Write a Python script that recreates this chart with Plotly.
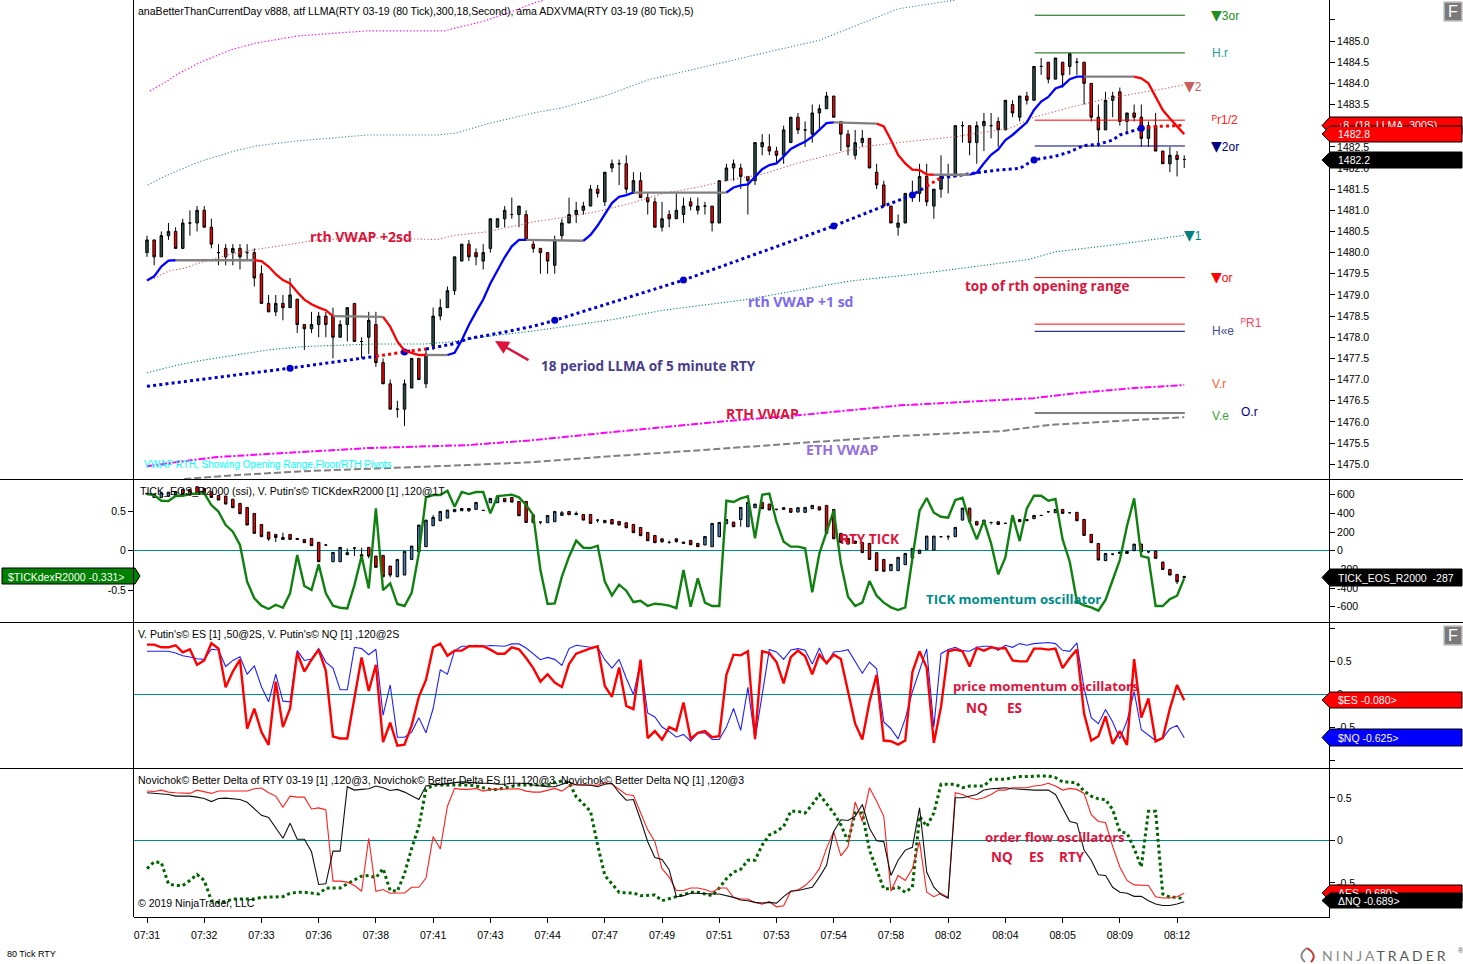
import plotly.graph_objects as go

# ---------- data ----------
time_labels = ["07:31","07:32","07:33","07:36","07:38","07:41","07:43","07:44","07:47","07:49",
               "07:51","07:53","07:54","07:58","08:02","08:04","08:05","08:09","08:12"]
bar_index = list(range(146))

rty_open = [1480.0,1480.3,1479.9,1480.4,1480.5,1480.1,1480.7,1480.7,1481.0,1480.6,
 1480.0,1480.1,1480.0,1480.1,1480.0,1480.0,1479.5,1478.8,1478.6,1478.8,
 1478.7,1478.9,1478.3,1478.2,1478.3,1478.5,1478.5,1478.0,1478.3,1478.8,
 1477.9,1478.0,1478.3,1477.4,1476.9,1476.3,1476.3,1476.8,1477.5,1476.9,
 1477.8,1478.5,1478.7,1479.1,1479.8,1480.2,1480.0,1479.8,1480.1,1480.6,
 1480.8,1480.9,1480.9,1480.9,1480.2,1480.1,1480.0,1479.7,1480.4,1480.7,
 1480.9,1481.0,1481.1,1481.5,1481.2,1482.0,1482.1,1482.1,1481.4,1481.7,
 1481.3,1481.2,1480.6,1480.9,1480.8,1480.9,1481.2,1481.0,1481.1,1481.1,
 1480.7,1481.7,1482.0,1482.0,1481.8,1481.7,1482.5,1482.5,1482.4,1482.3,
 1482.6,1483.2,1482.9,1482.8,1483.3,1483.4,1483.7,1483.1,1482.8,1482.3,
 1482.6,1482.7,1481.9,1481.6,1481.1,1480.6,1480.7,1481.3,1481.4,1481.8,
 1481.1,1481.5,1481.8,1481.8,1483.0,1483.0,1482.6,1483.0,1483.0,1483.1,
 1482.9,1483.5,1483.2,1483.7,1483.6,1484.4,1484.5,1484.1,1484.5,1484.4,
 1484.5,1484.5,1484.0,1483.2,1482.9,1483.6,1483.8,1483.1,1483.3,1483.2,
 1482.7,1483.0,1482.4,1482.1,1482.3,1482.2]
rty_high = [1480.4,1480.3,1480.5,1480.7,1480.6,1480.8,1481.0,1481.1,1481.1,1480.8,
 1480.2,1480.2,1480.2,1480.2,1480.2,1480.1,1479.7,1479.0,1479.0,1479.0,
 1479.4,1478.9,1478.3,1478.6,1478.6,1478.6,1478.7,1478.4,1478.7,1478.8,
 1478.0,1478.6,1478.6,1477.5,1477.0,1476.5,1477.0,1477.5,1477.5,1477.7,
 1478.7,1478.9,1479.2,1479.9,1480.2,1480.3,1480.1,1480.2,1480.8,1480.8,
 1481.1,1481.3,1481.1,1481.0,1480.3,1480.1,1480.0,1480.4,1480.8,1481.3,
 1481.2,1481.2,1481.6,1481.6,1481.9,1482.2,1482.2,1482.3,1481.9,1481.9,
 1481.4,1481.3,1481.2,1481.0,1481.4,1481.3,1481.3,1481.3,1481.2,1481.1,
 1481.7,1482.1,1482.2,1482.1,1481.8,1482.6,1482.8,1482.8,1482.5,1483.0,
 1483.2,1483.3,1483.1,1483.5,1483.5,1483.8,1483.7,1483.1,1482.9,1482.9,
 1482.9,1482.7,1482.1,1481.7,1481.1,1480.9,1481.4,1481.7,1482.1,1482.1,
 1481.5,1482.3,1482.1,1483.0,1483.1,1483.0,1483.1,1483.3,1483.3,1483.2,
 1483.6,1483.6,1483.7,1483.8,1484.4,1484.6,1484.5,1484.6,1484.5,1484.7,
 1484.6,1484.5,1484.0,1483.5,1483.8,1483.8,1483.9,1483.3,1483.5,1483.5,
 1483.1,1483.3,1482.4,1482.5,1482.4,1482.3]
rty_low = [1479.9,1479.7,1479.9,1480.3,1480.1,1480.1,1480.4,1480.5,1480.6,1480.1,
 1479.7,1479.7,1479.7,1479.6,1479.8,1479.2,1478.8,1478.6,1478.5,1478.4,
 1478.7,1478.1,1477.7,1478.1,1478.0,1478.0,1477.5,1478.0,1477.9,1477.9,
 1477.5,1477.6,1477.3,1476.9,1476.3,1476.1,1475.9,1476.8,1477.0,1476.8,
 1477.7,1478.4,1478.7,1479.0,1479.8,1479.8,1479.7,1479.6,1480.0,1480.6,
 1480.6,1480.8,1480.6,1480.3,1480.0,1479.5,1479.5,1479.5,1480.3,1480.7,
 1480.7,1480.9,1481.1,1481.3,1481.1,1481.9,1481.6,1481.4,1481.4,1481.3,
 1480.9,1480.6,1480.5,1480.6,1480.8,1480.7,1481.0,1480.9,1480.9,1480.5,
 1480.7,1481.7,1481.7,1481.5,1480.9,1481.6,1482.3,1482.3,1482.1,1482.1,
 1482.6,1482.8,1482.5,1482.6,1482.9,1483.4,1483.2,1482.4,1482.3,1482.2,
 1482.5,1482.0,1481.5,1481.1,1480.7,1480.4,1480.7,1481.2,1481.2,1481.1,
 1480.8,1481.3,1481.4,1481.8,1482.6,1482.3,1482.1,1482.4,1482.7,1482.5,
 1482.9,1483.2,1483.1,1483.5,1483.6,1484.2,1484.0,1484.1,1483.9,1484.2,
 1484.2,1483.5,1483.1,1482.5,1482.9,1483.2,1483.0,1482.8,1483.1,1482.5,
 1482.5,1482.4,1482.1,1481.9,1481.8,1482.0]
rty_close = [1480.3,1479.9,1480.4,1480.5,1480.1,1480.7,1480.7,1481.0,1480.6,1480.2,
 1480.0,1479.9,1480.1,1479.9,1480.0,1479.4,1478.8,1478.6,1478.8,1478.7,
 1479.0,1478.3,1478.2,1478.3,1478.5,1478.3,1478.0,1478.3,1478.7,1477.9,
 1477.9,1478.4,1477.4,1476.9,1476.3,1476.3,1476.9,1477.5,1477.0,1477.6,
 1478.5,1478.7,1479.1,1479.9,1480.2,1479.9,1479.9,1480.0,1480.8,1480.8,
 1481.0,1480.9,1481.1,1480.3,1480.1,1480.0,1479.8,1480.3,1480.7,1480.9,
 1481.0,1481.1,1481.5,1481.4,1481.9,1482.1,1482.1,1481.5,1481.7,1481.3,
 1481.2,1480.6,1480.8,1480.8,1481.0,1481.1,1481.1,1481.1,1481.1,1480.7,
 1481.7,1482.0,1482.1,1481.8,1481.7,1482.6,1482.6,1482.4,1482.3,1482.9,
 1483.2,1482.9,1482.9,1483.3,1483.4,1483.7,1483.2,1482.8,1482.5,1482.6,
 1482.7,1482.0,1481.6,1481.1,1480.7,1480.7,1481.4,1481.4,1481.8,1481.2,
 1481.5,1481.8,1481.8,1483.0,1483.0,1482.6,1483.0,1483.1,1483.0,1482.9,
 1483.6,1483.3,1483.7,1483.6,1484.4,1484.4,1484.1,1484.6,1484.2,1484.7,
 1484.5,1484.0,1483.2,1482.9,1483.6,1483.7,1483.1,1483.3,1483.2,1482.7,
 1483.0,1482.4,1482.1,1482.3,1482.2,1482.2]

llma_blue_x = [0,1,2,3,4,None,42,43,44,45,46,47,48,49,50,51,52,53,None,61,62,63,64,65,66,67,68,None,
               81,82,83,84,85,86,87,88,89,90,91,92,93,94,95,96,None,
               115,116,117,118,119,120,121,122,123,124,125,126,127,128,129,130,131]
llma_blue_y = [1479.34,1479.44,1479.67,1479.81,1479.82,None,
               1477.58,1477.63,1477.93,1478.29,1478.6,1478.89,1479.27,1479.59,1479.89,1480.15,1480.3,1480.3,None,
               1480.28,1480.42,1480.64,1480.89,1481.17,1481.32,1481.36,1481.42,None,
               1481.42,1481.54,1481.59,1481.61,1481.79,1481.97,1482.07,1482.11,1482.27,1482.45,1482.54,1482.62,1482.74,1482.9,1483.06,1483.08,None,
               1481.84,1481.89,1482.11,1482.31,1482.44,1482.66,1482.78,1482.94,1483.08,1483.37,1483.57,1483.68,1483.88,1483.94,1484.1,1484.16,1484.16]
llma_gray_x = [4,15,None,26,33,None,39,42,None,53,61,None,68,81,None,96,102,None,110,115,None,131,138]
llma_gray_y = [1479.82,1479.82,None,1478.5,1478.48,None,1477.58,1477.58,None,1480.3,1480.28,None,
               1481.42,1481.42,None,1483.08,1483.05,None,1481.84,1481.84,None,1484.16,1484.16]
llma_red_x = [15,16,17,18,19,20,21,22,23,24,25,26,None,33,34,35,36,37,38,39,None,
              102,103,104,105,106,107,108,109,110,None,138,139,140,141,142,143,144,145]
llma_red_y = [1479.82,1479.8,1479.67,1479.49,1479.35,1479.27,1479.07,1478.89,1478.78,1478.7,1478.64,1478.5,None,
              1478.48,1478.25,1477.9,1477.68,1477.63,1477.58,1477.58,None,
              1483.05,1482.98,1482.66,1482.31,1482.11,1481.96,1481.95,1481.85,1481.84,None,
              1484.16,1484.12,1484.0,1483.68,1483.37,1483.17,1482.98,1482.8]

llma5_blue_x = [0,20,32,None,35.5,37,None,39,43,45,49,54,57,75,96,103,107,109,None,
                111,113,116,119,122,124,127,129,130,131,133,135,136,139]
llma5_blue_y = [1476.84,1477.27,1477.55,None,1477.64,1477.68,None,1477.72,1477.85,1477.97,1478.09,1478.26,1478.4,1479.35,1480.63,1481.1,1481.36,1481.57,None,
                1481.77,1481.81,1481.89,1481.95,1481.99,1482.19,1482.28,1482.38,1482.46,1482.53,1482.56,1482.66,1482.78,1482.94]
llma5_red_x = [32,35.5,None,37,39,None,109,111,None,139,141,145]
llma5_red_y = [1477.55,1477.64,None,1477.68,1477.72,None,1481.57,1481.77,None,1482.94,1482.98,1483.01]
llma5_dots_x = [20,36,57,75,96,107,124,139]
llma5_dots_y = [1477.27,1477.65,1478.4,1479.35,1480.63,1481.36,1482.19,1482.94]

sd3_x = [0.4,2.8,4.3,7.5,11.7,15.2,21,26.1,30.8,41.5,43.3,47.1,50.9,54.1,55.6]
sd3_y = [1483.82,1484.05,1484.22,1484.5,1484.79,1484.95,1485.12,1485.19,1485.24,1485.24,1485.31,1485.47,1485.69,1485.9,1485.97]
steel_x = [0.1,2.8,7.5,12.2,15.2,21,26.1,30.8,40.6,43.3,47.5,54,58,64.3,70,77,85,94,105,113]
steel_y = [1481.6,1481.83,1482.16,1482.4,1482.52,1482.64,1482.71,1482.78,1482.78,1482.83,1483.04,1483.3,1483.42,1483.72,1484.08,1484.36,1484.67,1485.02,1485.76,1485.97]
sd2_x = [1,3.1,5.2,7,9.1,12.2,15,17.8,20.5,24.3,28,31.7,35.5,40.6,43,45.2,47.6,50.8,54.1,58.2,62.9,67.5,72.2,76.8,81.5,86,90.8,95.5,100,105,113,120.7,124,129,134.4,141,145]
sd2_y = [1479.39,1479.57,1479.63,1479.74,1479.84,1479.98,1480.07,1480.14,1480.22,1480.31,1480.33,1480.35,1480.33,1480.31,1480.41,1480.45,1480.49,1480.61,1480.73,1480.83,1480.97,1481.16,1481.4,1481.54,1481.72,1481.85,1482.11,1482.31,1482.5,1482.6,1482.74,1482.94,1483.2,1483.43,1483.65,1483.84,1483.96]
sd1_x = [0,4.2,7.9,12.2,16.9,21.9,26.1,31.7,38.8,42.5,47.1,54.1,65.2,72.2,83.4,90.8,98.3,104,109.4,123.3,127,135,145]
sd1_y = [1477.16,1477.34,1477.46,1477.58,1477.7,1477.78,1477.8,1477.84,1477.84,1477.89,1478.01,1478.15,1478.42,1478.64,1478.88,1479.1,1479.33,1479.43,1479.53,1479.84,1480.02,1480.18,1480.41]
rth_vwap_x = [0,2.8,9.8,21.4,30.8,44.8,54.1,63.4,81,91.3,105.3,124,130,138,145]
rth_vwap_y = [1474.95,1475.02,1475.17,1475.28,1475.38,1475.45,1475.57,1475.73,1476.02,1476.16,1476.39,1476.56,1476.68,1476.8,1476.87]
eth_vwap_x = [5.2,12.2,21.4,35.4,44.8,54.1,63.3,77.3,91.3,105.3,119.3,126.3,145]
eth_vwap_y = [1474.65,1474.74,1474.83,1474.91,1474.98,1475.05,1475.17,1475.33,1475.5,1475.67,1475.78,1475.93,1476.11]

pivot_x = [124.1,145.1]
pivot_levels = [1485.61,1484.72,1483.13,1482.52,1479.41,1478.31,1478.14,1476.21]
pivot_colors = ["#006400","#006400","#FF0000","#000080","#FF0000","#FF0000","#000080","#000000"]

tick_open = [607,571,571,586,589,657,657,686,668,632,
 593,586,553,507,464,400,282,200,175,143,
 175,132,121,132,90,61,-118,-118,-43,29,
 -43,36,-57,-50,-164,-279,-261,-93,-14,43,
 268,321,350,418,428,428,443,432,514,514,
 561,571,528,528,382,307,300,311,378,421,
 386,389,389,328,300,335,314,300,282,250,
 196,164,128,89,128,93,111,79,61,43,
 150,289,307,335,257,461,518,500,443,443,
 453,414,411,450,471,486,443,186,132,104,
 89,79,-21,-93,-214,-214,-150,-79,-29,14,
 7,150,150,150,328,457,314,328,303,311,
 293,321,335,335,343,378,418,407,443,407,
 411,336,175,78,-107,-36,-29,-7,0,71,
 -11,-4,-121,-200,-254,-275]
tick_close = [614,607,621,628,632,603,596,607,614,571,
 543,500,461,396,275,186,150,125,143,121,
 121,121,86,54,-118,61,-18,36,-21,29,
 -64,-57,-178,-279,-261,-93,-7,50,275,328,
 357,421,436,443,453,453,518,432,561,586,
 525,521,375,303,300,307,378,421,407,386,
 400,328,293,328,325,286,275,246,193,161,
 107,86,96,89,100,79,64,43,153,293,
 303,335,257,464,518,500,450,436,443,461,
 411,461,464,486,436,186,128,89,71,79,
 -21,-93,-214,-221,-146,-71,-29,25,7,157,
 157,150,150,250,457,311,275,293,303,282,
 293,357,311,321,378,378,418,443,400,407,
 321,164,86,-100,-29,-36,-14,-29,71,-11,
 -11,-82,-200,-261,-332,-287]
tick_high = [614,607,621,628,632,657,657,686,668,632,
 593,586,553,507,464,400,282,200,175,193,
 175,132,121,132,90,61,-18,36,25,36,
 32,36,-57,-50,-164,-93,-7,50,275,328,
 382,421,436,443,453,457,518,432,561,586,
 561,571,528,528,382,307,378,421,425,421,
 420,389,389,335,325,335,314,300,282,250,
 196,164,128,110,128,93,111,79,153,293,
 303,335,307,464,518,500,518,500,450,461,
 453,461,464,486,471,486,443,186,132,104,
 89,79,-21,-93,-146,-71,-29,25,7,157,
 157,150,168,250,457,457,314,328,303,311,
 300,357,335,335,378,378,425,443,443,415,
 411,336,175,78,-29,-36,-14,-7,71,71,
 -11,-4,-121,-200,-254,-275]
tick_low = [607,571,571,586,589,603,596,607,614,571,
 543,500,461,396,275,186,150,107,93,114,
 121,121,86,54,-118,61,-118,-118,-43,-57,
 -71,-82,-178,-279,-286,-279,-261,-93,-14,43,
 268,321,350,418,428,418,443,425,514,514,
 525,521,375,303,300,282,300,311,378,386,
 386,328,293,300,300,286,275,246,193,161,
 107,85,85,75,85,79,64,43,61,43,
 150,289,257,257,257,461,450,436,430,443,
 411,414,411,450,436,186,128,89,71,79,
 -21,-93,-214,-221,-214,-214,-150,-79,-29,14,
 7,150,114,150,328,311,275,293,280,282,
 285,321,311,321,343,378,407,407,400,407,
 321,164,86,-100,-107,-50,-29,-29,0,-11,
 -25,-82,-200,-261,-357,-287]
tickdex = [.717,.705,.633,.629,.692,.696,.717,.726,.726,.578,
 .494,.325,.241,.072,-.392,-.603,-.696,-.738,-.684,-.722,
 -.54,-.055,-.447,-.498,-.173,-.54,-.696,-.722,-.73,-.435,
 -.068,-.477,.536,-.498,-.414,-.675,-.7,-.532,-.034,.675,
 .705,.705,.759,.557,.743,.717,.743,.743,.473,.692,
 .7,.709,.675,.578,.451,-.245,-.675,-.667,-.329,-.076,
 .127,.038,.034,.063,-.392,-.565,-.43,-.506,-.65,-.633,
 -.7,-.671,-.679,-.696,-.726,-.245,-.709,-.35,-.658,-.7,
 -.7,.633,.616,.662,.688,.156,.709,.722,.367,.114,
 .051,.051,.03,-.527,-.034,.241,.506,-.16,-.582,-.7,
 -.658,-.384,-.57,-.658,-.717,-.751,-.717,-.097,.506,.667,
 .481,.43,.418,.641,.671,.367,.143,.38,.093,-.3,
 -.084,.451,.122,.536,.696,.696,.633,.654,.143,-.139,
 -.646,-.692,-.717,-.759,-.624,-.371,-.118,.312,.662,-.068,
 -.089,-.7,-.7,-.612,-.57,-.35]

es_momentum = [.755,.755,.714,.714,.745,.638,.684,.449,.515,.776,
 .694,.107,.347,.526,-.52,-.214,-.571,-.765,.194,-.495,
 -.214,.628,.347,.526,.679,.357,-.638,-.668,-.668,-.061,
 .561,.051,.449,-.724,-.429,-.776,-.76,-.469,-.036,.219,
 .714,.77,.587,.663,.663,.73,.73,.73,.679,.617,
 .617,.714,.684,.551,.398,.194,.306,.179,.112,.459,
 .617,.663,.699,.73,.128,-.036,.408,-.173,-.224,
 .526,-.663,-.556,-.684,-.495,-.546,-.122,-.673,-.582,-.556,
 -.648,-.633,.296,.602,.592,.653,-.673,.653,.628,.49,
 .168,.566,.663,.577,.306,.602,.474,.602,.536,.066,
 -.444,-.684,-.112,.296,-.699,-.709,-.76,-.699,.337,.653,
 .408,-.735,-.189,.653,.679,.653,.423,.704,.663,.714,
 .694,.704,.515,.5,.5,.694,.694,.679,.694,.398,
 .551,.679,-.291,-.699,-.633,-.332,-.75,-.556,-.765,.536,
 -.352,-.061,-.714,-.658,-.214,.143,-.087]
nq_momentum = [.653,.653,.653,.653,.628,.587,.566,.541,.531,.684,
 .673,.423,.515,.571,.306,.434,.117,-.112,.306,-.102,
 -.112,.663,.515,.536,.694,.49,.398,.071,.071,.714,
 .694,.602,.684,-.316,.143,-.648,-.648,-.571,-.352,-.582,
 -.214,.372,.306,.663,.73,.73,.745,.73,.74,.73,
 .73,.765,.765,.704,.617,.526,.561,.531,.439,.694,
 .745,.73,.714,.714,.526,.398,.531,.245,0,
 .49,-.281,-.342,-.495,-.561,-.648,-.607,-.709,-.587,-.582,
 -.684,-.684,-.495,-.214,-.546,.107,-.684,-.036,.679,.643,
 .531,.673,.694,.668,.459,.704,.459,.643,.653,.679,
 .5,.321,.49,.388,-.418,-.52,-.673,-.367,.041,.372,
 .689,-.495,.617,.679,.714,.663,.653,.714,.73,.73,
 .668,.745,.714,.77,.745,.77,.776,.786,.77,.668,
 .653,.781,.092,-.352,-.444,-.23,-.418,-.673,-.403,.041,
 -.536,-.622,-.699,-.663,-.52,-.469,-.658]

delta_es = [.58,.575,.59,.567,.56,.552,.552,.59,.571,.552,
 .58,.58,.58,.58,.58,.607,.615,.56,.52,.389,
 .52,.508,.508,.369,.381,.361,-.48,-.48,-.492,-.532,
 -.599,.024,-.599,-.579,-.623,-.619,-.619,-.552,-.552,-.444,
 .044,-.103,.401,.611,.599,.599,.611,.579,.599,.599,
 .599,.607,.607,.579,.567,.567,.59,.611,.579,.639,
 .659,.651,.651,.647,.679,.659,.599,.54,.528,
 .321,.123,-.016,-.333,-.433,-.591,-.591,-.56,-.56,-.579,
 -.611,-.56,-.56,-.671,-.69,-.69,-.73,-.75,-.722,-.782,
 -.77,-.599,-.583,-.532,-.452,-.333,-.095,.103,-.183,-.075,
 .452,.222,.619,.46,.282,-.599,-.413,-.472,-.333,-.016,
 -.611,-.663,-.623,-.671,.56,.54,.5,.48,.5,.54,
 .591,.591,.619,.619,.619,.639,.647,.671,.639,.591,
 .611,.599,.552,.302,.222,.21,-.075,-.313,-.472,-.524,
 -.524,-.532,-.663,-.679,-.679,-.663,-.623]
delta_nq = [.56,.556,.552,.54,.52,.52,.52,.508,.492,.456,
 .492,.496,.492,.48,.448,.369,.294,.27,.143,.024,
 .202,.012,.012,-.135,-.52,-.512,-.127,-.127,.631,.591,
 .599,.607,.639,.619,.587,.599,.567,.528,.48,.639,
 .659,.655,.671,.679,.687,.679,.679,.671,.671,.659,
 .659,.671,.671,.671,.651,.639,.631,.631,.659,.687,
 .651,.647,.647,.631,.659,.671,.56,.472,.48,
 .242,-.016,-.202,-.226,-.345,-.663,-.651,-.623,-.623,-.631,
 -.631,-.631,-.651,-.671,-.702,-.71,-.73,-.738,-.73,-.738,
 -.663,-.599,-.591,-.571,-.552,-.433,-.294,.103,.242,.234,
 .282,.421,.143,-.004,-.016,-.413,-.234,-.115,-.083,.381,
 -.373,-.552,-.639,-.679,.5,.5,.52,.54,.591,.607,
 .611,.619,.607,.599,.591,.591,.591,.591,.54,.381,
 .222,.202,-.115,-.234,-.405,-.413,-.552,-.611,-.623,-.659,
 -.659,-.71,-.75,-.766,-.766,-.75,-.722]
delta_rty = [-.333,-.254,-.262,-.512,-.532,-.532,-.472,-.401,-.472,-.71,
 -.73,-.718,-.69,-.69,-.69,-.69,-.671,-.671,-.663,-.663,
 -.623,-.611,-.611,-.623,-.631,-.563,-.56,-.56,-.512,-.464,
 -.421,-.413,-.44,-.333,-.591,-.599,-.393,-.095,.163,.599,
 .647,.651,.647,.651,.651,.651,.639,.619,.599,.599,
 .619,.639,.651,.651,.651,.651,.651,.679,.698,.679,
 .512,.429,.341,-.056,-.413,-.512,-.611,-.619,-.619,
 -.651,-.651,-.643,-.71,-.69,-.663,-.639,-.611,-.611,-.631,
 -.651,-.56,-.452,-.373,-.341,-.234,-.234,-.056,.063,.103,
 .163,.341,.341,.321,.421,.54,.429,.321,.183,-.016,
 .321,.321,-.115,-.353,-.571,-.571,-.552,-.611,-.552,.282,
 .163,.321,.659,.659,.659,.619,.639,.639,.639,.718,
 .718,.718,.738,.75,.75,.758,.758,.758,.738,.687,
 .687,.671,.579,.52,.488,.48,.361,.103,.083,-.095,
 -.313,.341,.341,-.631,-.671,-.671,-.69]

main_ticks = [1475+0.5*k for k in range(22)]
tick_ticks = [600,400,200,0,-200,-400,-600]

for arr in (rty_open,rty_high,rty_low,rty_close,tick_open,tick_high,tick_low,tick_close,tickdex,
            es_momentum,nq_momentum,delta_es,delta_nq,delta_rty):
    assert len(arr) == 146, len(arr)

# ---------- helpers ----------
W, H = 1463, 964
px = lambda v: v / W
py = lambda v: 1 - v / H
AR = "Liberation Sans"
OS = "Open Sans"
CRIMSON = "#DC143C"


def line(x, y, color, width, dash="solid", yaxis="y", shape="linear"):
    return go.Scatter(x=x, y=y, mode="lines", yaxis=yaxis, hoverinfo="skip", showlegend=False,
                      connectgaps=False, line=dict(color=color, width=width, dash=dash, shape=shape))


annos, shapes = [], []


def text(x, y, s, color="#000000", size=10.55, font=AR, anchor="left", bold=False):
    annos.append(dict(xref="paper", yref="paper", x=px(x), y=py(y), text=f"<b>{s}</b>" if bold else s,
                      showarrow=False, xanchor=anchor, yanchor="middle", borderpad=0, borderwidth=0,
                      font=dict(family=font, size=size, color=color)))


def tag(y0, y1, fill, label, tcolor="#FFFFFF", cover=False):
    ym = (y0 + y1) / 2
    path = (f"M {px(1322)} {py(ym)} L {px(1330)} {py(y0)} L {px(1462)} {py(y0)} "
            f"L {px(1462)} {py(y1)} L {px(1330)} {py(y1)} Z")
    shapes.append(dict(type="path", path=path, xref="paper", yref="paper", fillcolor=fill,
                       line=dict(color="#000000", width=1), layer="above"))
    a = dict(xref="paper", yref="paper", x=px(1338), y=py(ym), text=label, showarrow=False,
             xanchor="left", yanchor="middle", align="left", borderpad=0, borderwidth=0,
             font=dict(family=AR, size=10.5, color=tcolor))
    if cover:
        a.update(bgcolor=fill, width=123, height=y1 - y0 - 2)
    annos.append(a)


def fbutton(y0):
    shapes.append(dict(type="rect", xref="paper", yref="paper", x0=px(1444), x1=px(1462), y0=py(y0), y1=py(y0 + 19),
                       fillcolor="#7A7A7A", line=dict(color="#C4C4C4", width=1.5), layer="above"))
    text(1453, y0 + 9.5, "F", "#FFFFFF", 16, AR, "center")


# ---------- traces ----------
traces = [
    go.Candlestick(x=bar_index, open=rty_open, high=rty_high, low=rty_low, close=rty_close, yaxis="y",
                   showlegend=False, hoverinfo="skip", whiskerwidth=0,
                   increasing=dict(line=dict(color="#000000", width=1), fillcolor="#2F4F4F"),
                   decreasing=dict(line=dict(color="#000000", width=1), fillcolor="#FF0000")),
    go.Candlestick(x=bar_index, open=tick_open, high=tick_high, low=tick_low, close=tick_close, yaxis="y2",
                   showlegend=False, hoverinfo="skip", whiskerwidth=0,
                   increasing=dict(line=dict(color="#000000", width=1), fillcolor="#4682B4"),
                   decreasing=dict(line=dict(color="#000000", width=1), fillcolor="#FF0000")),
    line(sd3_x, sd3_y, "#FF00FF", 1.2, "1.2px,2.2px"),
    line(steel_x, steel_y, "#4682B4", 1.1, "1.2px,2px"),
    line(sd2_x, sd2_y, "#CD5C5C", 1.1, "1.2px,2.2px"),
    line(sd1_x, sd1_y, "#008080", 1.1, "1.2px,2px"),
    line(rth_vwap_x, rth_vwap_y, "#FF00FF", 2, "7px,2px,2px,2px"),
    line(eth_vwap_x, eth_vwap_y, "#808080", 2, "7px,3px"),
    line(llma5_blue_x, llma5_blue_y, "#0000CD", 3, "3px,3.2px"),
    line(llma5_red_x, llma5_red_y, "#FF0000", 3, "3px,3.2px"),
    go.Scatter(x=llma5_dots_x, y=llma5_dots_y, mode="markers", yaxis="y", hoverinfo="skip", showlegend=False,
               marker=dict(color="#0000CD", size=7)),
    line(llma_gray_x, llma_gray_y, "#808080", 2.3),
    line(llma_blue_x, llma_blue_y, "#0000FF", 2.3),
    line(llma_red_x, llma_red_y, "#FF0000", 2.3),
]
for level, col in zip(pivot_levels, pivot_colors):
    traces.append(line(pivot_x, [level, level], col, 1))
traces += [
    line(bar_index, tickdex, "#108010", 2.4, yaxis="y5"),
    line(bar_index, nq_momentum, "#2020FF", 1.1, yaxis="y3"),
    line(bar_index, es_momentum, "#FF0000", 2.4, yaxis="y3"),
    line(bar_index, delta_rty, "#006400", 3, "3px,3px", yaxis="y4"),
    line(bar_index, delta_es, "#FF2020", 1.1, yaxis="y4"),
    line(bar_index, delta_nq, "#101010", 1.1, yaxis="y4"),
]

# ---------- text ----------
T = "anaBetterThanCurrentDay v888, atf LLMA(RTY 03-19 (80 Tick),300,18,Second), ama ADXVMA(RTY 03-19 (80 Tick),5)"
text(138, 11, T)
text(140, 491, "TICK_EOS_R2000 (ssi), V. Putin's© TICKdexR2000 [1] ,120@1T")
text(138, 634, "V. Putin's© ES [1] ,50@2S, V. Putin's© NQ [1] ,120@2S")
text(138, 780, "Novichok© Better Delta of RTY 03-19 [1] ,120@3, Novichok© Better Delta ES [1] ,120@3, Novichok© Better Delta NQ [1] ,120@3")
text(138, 903, "© 2019 NinjaTrader, LLC")
text(7, 954, "80 Tick RTY", size=9)
text(144, 464, "VWAP RTH, Showing Opening Range,Floor/RTH Pivots", "#00FFFF", 10)

for x, y, s, c, sz in [(361, 236, "rth VWAP +2sd", CRIMSON, 14), (801, 301, "rth VWAP +1 sd", "#7B68EE", 14),
                   (1047, 286, "top of rth opening range", CRIMSON, 13.5), (648, 365, "18 period LLMA of 5 minute RTY", "#483D8B", 13.6),
                   (763, 413, "RTH VWAP", CRIMSON, 14), (842, 449, "ETH VWAP", "#9370DB", 14.2),
                   (870, 538, "RTY TICK", CRIMSON, 13.6), (1013, 599, "TICK momentum oscillator", "#008B8B", 13.2),
                   (1046, 686, "price momentum oscillators", CRIMSON, 13.2), (977, 708, "NQ", CRIMSON, 13.5), (1015, 708, "ES", CRIMSON, 13.5),
                   (1055, 837, "order flow oscillators", CRIMSON, 13.2), (1002, 857, "NQ", CRIMSON, 13.5), (1036, 857, "ES", CRIMSON, 13.5),
                   (1072, 857, "RTY", CRIMSON, 13.5)]:
    text(x, y, s, c, sz, OS, "center", bold=True)

TRI = '<span style="font-family:DejaVu Sans;font-size:14px">▼</span>'
for x, y, s, c in [(1211, 15, TRI + "3or", "#228B22"), (1212, 53, "H.r", "#20A0A0"), (1184, 86, TRI + "2", "#CD5C5C"),
                   (1212, 120, "ᴾr1/2", "#FF2020"), (1211, 146, TRI + "2or", "#000080"), (1184, 235, TRI + "1", "#008080"),
                   (1211, 277, TRI + "or", "#FF0000"), (1212, 331, "H«e", "#405090"), (1241, 323, "ᴾR1", "#FF4060"),
                   (1212, 384, "V.r", "#FF6030"), (1212, 416, "V.e", "#40A040"), (1241, 412, "O.r", "#000080")]:
    text(x, y, s, c, 12)

annos.append(dict(xref="paper", yref="paper", x=px(495), y=py(341), ax=35, ay=20, text="", showarrow=True,
                  arrowhead=2, arrowsize=1.1, arrowwidth=2.5, arrowcolor=CRIMSON))

# left tag
path = (f"M {px(2)} {py(568)} L {px(135)} {py(568)} L {px(140)} {py(576)} L {px(135)} {py(584)} L {px(2)} {py(584)} Z")
shapes.append(dict(type="path", path=path, xref="paper", yref="paper", fillcolor="#008000",
                   line=dict(color="#000000", width=1), layer="above"))
text(8, 576.5, "$TICKdexR2000 -0.331>", "#FFFFFF", 10.5)

tag(117, 134, "#FF0000", "↓8  (18, LLMA, 300S)")
tag(126, 142, "#FF0000", "1482.8", cover=True)
tag(152, 168, "#000000", "1482.2")
tag(569, 586, "#000000", "TICK_EOS_R2000  -287")
tag(692, 708, "#FF0000", "$ES -0.080>")
tag(729, 746, "#0000FF", "$NQ -0.625>")
tag(885, 901, "#FF0000", "ΔES -0.680>")
tag(893, 908, "#000000", "ΔNQ -0.689>", cover=True)
fbutton(2)
fbutton(626)

# separators and frame
for y in (479.5, 622.5, 768.5):
    shapes.append(dict(type="line", xref="paper", yref="paper", x0=0, x1=1, y0=py(y), y1=py(y),
                       line=dict(color="#000000", width=1), layer="above"))
shapes.append(dict(type="line", xref="paper", yref="paper", x0=px(133.5), x1=px(133.5), y0=py(0), y1=py(917),
                   line=dict(color="#000000", width=1), layer="above"))

# logo
text(1322, 955, '<span style="color:#8A8A8A;letter-spacing:3px">NINJA</span><span style="color:#555555;letter-spacing:3px">TRADER</span>', size=14, font="Lato")
text(1458, 950, "®", "#555555", 7)
shapes.append(dict(type="path", xref="paper", yref="paper", layer="above", fillcolor="rgba(0,0,0,0)",
                   path=f"M {px(1307)} {py(948)} Q {px(1297)} {py(955)} {px(1305)} {py(962)}",
                   line=dict(color="#888888", width=2)))
shapes.append(dict(type="path", xref="paper", yref="paper", layer="above", fillcolor="rgba(0,0,0,0)",
                   path=f"M {px(1307)} {py(948)} Q {px(1318)} {py(955)} {px(1311)} {py(962)}",
                   line=dict(color="#C0392B", width=2)))

# ---------- layout ----------
tf = dict(family=AR, size=10.5, color="#000000")
yax = dict(showgrid=False, showline=True, linecolor="#000000", linewidth=1, ticks="outside", ticklen=5,
           tickcolor="#000000", tickfont=tf, anchor="x", side="right", fixedrange=True, zeroline=False)
layout = dict(
    width=W, height=H, autosize=False, margin=dict(l=0, r=0, t=0, b=0),
    paper_bgcolor="#FFFFFF", plot_bgcolor="#FFFFFF", showlegend=False, boxgap=0.5,
    xaxis=dict(domain=[px(134), px(1329)], range=[-1.817, 165.24], type="linear", anchor="y4",
               showgrid=False, zeroline=False, showline=True, linecolor="#000000", linewidth=1,
               ticks="outside", ticklen=5, tickcolor="#000000", tickfont=tf, ticklabelstandoff=3,
               tickvals=[8 * k for k in range(len(time_labels))], ticktext=time_labels,
               rangeslider=dict(visible=False), fixedrange=True),
    yaxis=dict(yax, domain=[py(479), 1], range=[1474.65, 1485.97], tickvals=main_ticks,
               ticktext=[f"{v:.1f}" if v < 1485.5 else "" for v in main_ticks]),
    yaxis2=dict(yax, domain=[py(622), py(480)], range=[-764, 758], tickvals=tick_ticks,
                ticktext=[str(v) for v in tick_ticks]),
    yaxis5=dict(yax, domain=[py(622), py(480)], side="left", overlaying="y2", range=[-0.9025, 0.895],
                tickvals=[0.5, 0, -0.5], ticktext=["0.5", "0", "-0.5"], showline=False,
                zeroline=True, zerolinecolor="#008B8B", zerolinewidth=1),
    yaxis3=dict(yax, domain=[py(768), py(623)], range=[-1.115, 1.082], tickvals=[1, 0.5, 0, -0.5, -1],
                ticktext=["", "0.5", "0", "-0.5", ""], zeroline=True, zerolinecolor="#008B8B", zerolinewidth=1),
    yaxis4=dict(yax, domain=[py(917), py(769)], range=[-0.902, 0.839], tickvals=[0.5, 0, -0.5],
                ticktext=["0.5", "0", "-0.5"], zeroline=True, zerolinecolor="#008B8B", zerolinewidth=1),
    shapes=shapes, annotations=annos,
)
fig = go.Figure(data=traces, layout=layout)
fig.write_html("out.html", config=dict(displayModeBar=False),
               post_script="document.body.style.margin='0';document.documentElement.style.overflow='hidden';")
